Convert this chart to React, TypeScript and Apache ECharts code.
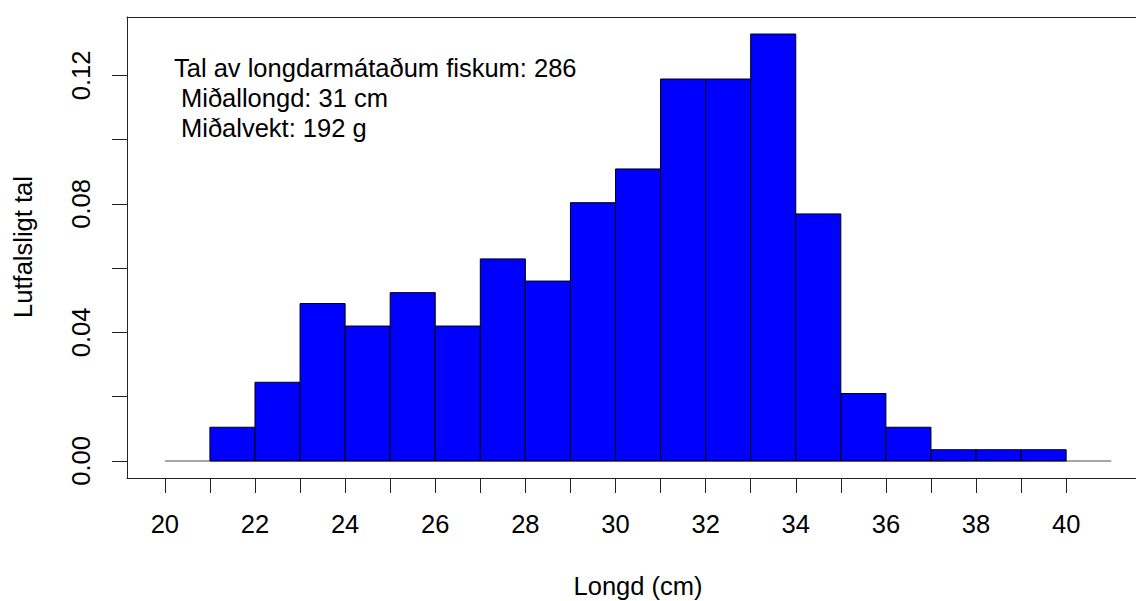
import React, { useEffect, useRef } from "react";
import * as echarts from "echarts";

// Histogram bins (left edges, cm), width 1 cm
const binStarts = [21, 22, 23, 24, 25, 26, 27, 28, 29, 30, 31, 32, 33, 34, 35, 36, 37, 38, 39];
const binWidth = 1;
// Relative frequency per bin
const proportions = [
  0.0105, 0.0245, 0.049, 0.042, 0.0524, 0.042, 0.0629, 0.056, 0.0804, 0.0909,
  0.1189, 0.1189, 0.1329, 0.0769, 0.021, 0.0105, 0.0035, 0.0035, 0.0035,
];
const xTicks = [20, 21, 22, 23, 24, 25, 26, 27, 28, 29, 30, 31, 32, 33, 34, 35, 36, 37, 38, 39, 40];
const xLabels = [20, 22, 24, 26, 28, 30, 32, 34, 36, 38, 40];
const yTicks = [0, 0.02, 0.04, 0.06, 0.08, 0.1, 0.12];
const yLabels = [0, 0.04, 0.08, 0.12];
const baseline = [
  [20, 0],
  [41, 0],
];
const xTitle = "Longd (cm)";
const yTitle = "Lutfalsligt tal";
const infoLines = ["Tal av longdarmátaðum fiskum: 286", "Miðallongd: 31 cm", "Miðalvekt: 192 g"];

const FONT = '"Liberation Sans", Arial, sans-serif';
const FS = 25.5;
const X_MIN = 19.16;
const X_MAX = 41.55;

export default function App() {
  const ref = useRef<HTMLDivElement>(null);
  useEffect(() => {
    if (!ref.current) return;
    const chart = echarts.init(ref.current, null, { renderer: "svg" });
    const histData = binStarts.map((s, i) => [s, s + binWidth, proportions[i]]);
    const frameLine = { show: true, onZero: false, lineStyle: { color: "#222", width: 1 } };
    chart.setOption({
      animation: false,
      backgroundColor: "#fff",
      textStyle: { fontFamily: FONT },
      grid: {
        left: 127,
        top: 17,
        bottom: 123,
        right: 0,
        show: false,
      },
      xAxis: [
        {
          type: "value",
          min: X_MIN,
          max: X_MAX,
          position: "bottom",
          splitLine: { show: false },
          axisLine: frameLine,
          axisTick: {
            show: true,
            customValues: xTicks,
            length: 15,
            inside: false,
            lineStyle: { color: "#222", width: 1 },
          },
          axisLabel: {
            show: true,
            customValues: xLabels,
            fontSize: FS,
            color: "#000",
            fontFamily: FONT,
            margin: 33,
          },
        },
        {
          type: "value",
          min: X_MIN,
          max: X_MAX,
          position: "top",
          splitLine: { show: false },
          axisLine: frameLine,
          axisTick: { show: false },
          axisLabel: { show: false },
        },
      ],
      yAxis: {
        type: "value",
        min: -0.0053,
        max: 0.1382,
        position: "left",
        splitLine: { show: false },
        axisLine: frameLine,
        axisTick: {
          show: true,
          customValues: yTicks,
          length: 15,
          inside: false,
          lineStyle: { color: "#222", width: 1 },
        },
        axisLabel: {
          show: true,
          customValues: yLabels,
          rotate: 90,
          fontSize: FS,
          color: "#000",
          fontFamily: FONT,
          margin: 33,
          formatter: (v: number) => v.toFixed(2),
        },
      },
      series: [
        {
          type: "line",
          data: baseline,
          symbol: "none",
          lineStyle: { color: "#888", width: 1.5 },
          z: 1,
          silent: true,
        },
        {
          type: "custom",
          z: 2,
          data: histData,
          renderItem: (params: any, api: any) => {
            const x0 = api.value(0);
            const x1 = api.value(1);
            const y = api.value(2);
            const p0 = api.coord([x0, y]);
            const p1 = api.coord([x1, 0]);
            return {
              type: "rect",
              shape: { x: p0[0], y: p0[1], width: p1[0] - p0[0], height: p1[1] - p0[1] },
              style: { fill: "#0000FF", stroke: "#000", lineWidth: 1 },
            };
          },
        },
      ],
      graphic: [
        {
          type: "text",
          x: 174,
          y: 68,
          style: { text: infoLines[0], font: `${FS}px ${FONT}`, fill: "#000", textAlign: "left", textVerticalAlign: "middle" },
        },
        {
          type: "text",
          x: 181,
          y: 98,
          style: { text: infoLines[1], font: `${FS}px ${FONT}`, fill: "#000", textAlign: "left", textVerticalAlign: "middle" },
        },
        {
          type: "text",
          x: 181,
          y: 128,
          style: { text: infoLines[2], font: `${FS}px ${FONT}`, fill: "#000", textAlign: "left", textVerticalAlign: "middle" },
        },
        {
          type: "text",
          x: 638,
          y: 586,
          style: { text: xTitle, font: `${FS}px ${FONT}`, fill: "#000", textAlign: "center", textVerticalAlign: "middle" },
        },
        {
          type: "text",
          x: 23,
          y: 247,
          rotation: Math.PI / 2,
          style: { text: yTitle, font: `${FS}px ${FONT}`, fill: "#000", textAlign: "center", textVerticalAlign: "middle" },
        },
      ],
    });
    return () => chart.dispose();
  }, []);
  return (
    <div
      ref={ref}
      style={{ position: "fixed", left: 0, top: 0, width: 1136, height: 601, background: "#fff" }}
    />
  );
}
